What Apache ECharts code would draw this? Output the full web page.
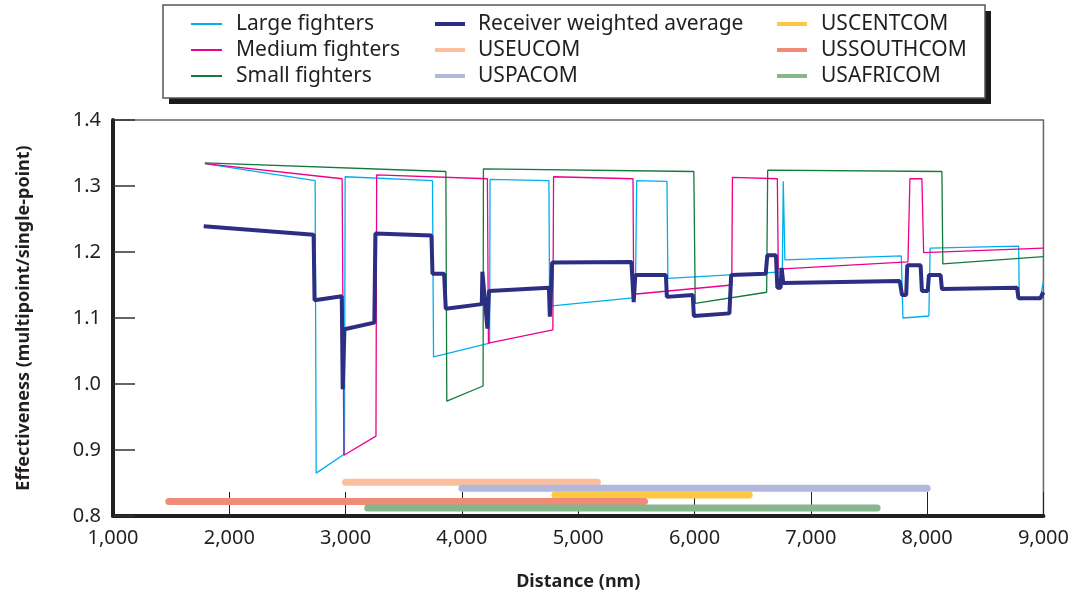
<!DOCTYPE html>
<html>
<head>
<meta charset="utf-8">
<script src="https://cdn.jsdelivr.net/npm/echarts@6/dist/echarts.min.js"></script>
<style>html,body{margin:0;padding:0;background:#fff}#c{width:1072px;height:596px}</style>
</head>
<body>
<div id="c"></div>
<script>
// ---- data ----
const xTicks = [1000, 2000, 3000, 4000, 5000, 6000, 7000, 8000, 9000];
const yTicks = [0.8, 0.9, 1.0, 1.1, 1.2, 1.3, 1.4];

const largeFighters = [
  [1790,1.334],[2738,1.308],[2747,0.865],[2990,0.894],[2996,1.314],[3747,1.308],
  [3756,1.041],[4238,1.062],[4242,1.310],[4748,1.308],[4754,1.118],[5491,1.131],
  [5503,1.308],[5763,1.307],[5771,1.160],[6755,1.170],[6763,1.307],[6777,1.188],
  [7778,1.194],[7792,1.100],[8015,1.103],[8026,1.206],[8787,1.209],[8792,1.128],
  [8973,1.130],[9000,1.156]
];
const mediumFighters = [
  [1790,1.334],[2970,1.311],[2985,0.892],[3261,0.921],[3267,1.317],[4219,1.311],
  [4228,1.062],[4782,1.082],[4788,1.314],[5471,1.311],[5477,1.136],[6320,1.150],
  [6326,1.313],[6712,1.311],[6720,1.174],[7835,1.185],[7852,1.311],[7955,1.311],
  [7970,1.199],[9000,1.206]
];
const smallFighters = [
  [1790,1.335],[3862,1.322],[3870,0.974],[4182,0.997],[4185,1.326],[5994,1.322],
  [6006,1.122],[6620,1.139],[6629,1.324],[8127,1.322],[8135,1.182],[9000,1.193]
];
const receiverAverage = [
  [1780,1.239],[2725,1.226],[2733,1.127],[2967,1.133],[2975,0.992],[2990,1.083],
  [3247,1.093],[3256,1.228],[3738,1.225],[3747,1.167],[3847,1.167],[3861,1.114],
  [4171,1.121],[4176,1.170],[4219,1.084],[4233,1.141],[4748,1.146],[4756,1.102],
  [4776,1.184],[5457,1.185],[5477,1.124],[5491,1.165],[5754,1.165],[5762,1.132],
  [5985,1.135],[5994,1.103],[6300,1.107],[6315,1.165],[6612,1.167],[6626,1.195],
  [6700,1.195],[6712,1.146],[6740,1.146],[6749,1.176],[6763,1.153],[7764,1.156],
  [7784,1.135],[7820,1.135],[7829,1.180],[7944,1.180],[7955,1.141],[8005,1.141],
  [8015,1.165],[8116,1.165],[8127,1.144],[8773,1.146],[8785,1.130],[8973,1.130],
  [9000,1.139]
];
const usEucom    = [[3000,0.851],[5165,0.851]];
const usPacom    = [[4000,0.842],[8000,0.842]];
const usCentcom  = [[4800,0.832],[6470,0.832]];
const usSouthcom = [[1480,0.822],[5570,0.822]];
const usAfricom  = [[3190,0.812],[7570,0.812]];

const FONT = '"Noto Sans", "DejaVu Sans", sans-serif';
const TXT = '#231f20';

function thin(name, data, color) {
  return { name, type:'line', data, color, symbol:'none', silent:true,
    lineStyle:{ color, width:1.3 }, z:2 };
}
function band(name, data, color) {
  return { name, type:'line', data, color, symbol:'none', silent:true,
    lineStyle:{ color, width:7, cap:'round' }, z:2 };
}

const legendText = { fontFamily:FONT, fontSize:21, color:TXT, lineHeight:22, padding:[0,0,0,9] };

const option = {
  animation:false,
  backgroundColor:'#fff',
  graphic:[
    { type:'rect', z:0, shape:{ x:169, y:11, width:822, height:93 },
      style:{ fill:'#1a1a1a' } },
    { type:'rect', z:1, shape:{ x:163, y:5, width:822, height:93 },
      style:{ fill:'#fff', stroke:'#555', lineWidth:1.5 } }
  ],
  legend:[
    { left:186, top:8, orient:'vertical', icon:'rect', itemWidth:31, itemHeight:2, itemGap:4,
      selectedMode:false, textStyle:legendText, z:10,
      data:['Large fighters','Medium fighters','Small fighters'] },
    { left:430, top:8, orient:'vertical', icon:'rect', itemWidth:30, itemHeight:4, itemGap:4,
      selectedMode:false, textStyle:Object.assign({}, legendText, {padding:[0,0,0,8]}), z:10,
      data:['Receiver weighted average','USEUCOM','USPACOM'] },
    { left:772, top:8, orient:'vertical', icon:'rect', itemWidth:30, itemHeight:4, itemGap:4,
      selectedMode:false, textStyle:Object.assign({}, legendText, {padding:[0,0,0,9]}), z:10,
      data:['USCENTCOM','USSOUTHCOM','USAFRICOM'] }
  ],
  grid:{ left:113, right:26, top:120, bottom:78, show:true, borderColor:'#666', borderWidth:1.5 },
  xAxis:{
    type:'value', min:xTicks[0], max:xTicks[xTicks.length-1], interval:1000,
    name:'Distance (nm)', nameLocation:'middle', nameGap:57,
    nameTextStyle:{ fontFamily:FONT, fontSize:18, fontWeight:'bold', color:TXT },
    axisLine:{ lineStyle:{ color:TXT, width:4 } },
    axisTick:{ inside:true, length:24, lineStyle:{ color:'#222', width:1 } },
    axisLabel:{ fontFamily:FONT, fontSize:20, color:TXT, margin:12,
      formatter:v => String(Math.round(v)).replace(/\B(?=(\d{3})+(?!\d))/g, ',') },
    splitLine:{ show:false }
  },
  yAxis:{
    type:'value', min:yTicks[0], max:yTicks[yTicks.length-1], interval:0.1,
    name:'Effectiveness (multipoint/single-point)', nameLocation:'middle', nameGap:80, nameRotate:90,
    nameTextStyle:{ fontFamily:FONT, fontSize:18, fontWeight:'bold', color:TXT },
    axisLine:{ lineStyle:{ color:TXT, width:4 } },
    axisTick:{ inside:true, length:22, lineStyle:{ color:'#333', width:1.5 } },
    axisLabel:{ fontFamily:FONT, fontSize:20, color:TXT, margin:12,
      formatter:v => v.toFixed(1) },
    splitLine:{ show:false }
  },
  series:[
    thin('Large fighters', largeFighters, '#00aeef'),
    thin('Medium fighters', mediumFighters, '#ec008c'),
    thin('Small fighters', smallFighters, '#137a3c'),
    { name:'Receiver weighted average', type:'line', data:receiverAverage, color:'#2b2e83',
      symbol:'none', silent:true, lineStyle:{ color:'#2b2e83', width:4 }, z:3 },
    band('USEUCOM', usEucom, '#fbbf9e'),
    band('USPACOM', usPacom, '#b1b8dc'),
    band('USCENTCOM', usCentcom, '#fdc643'),
    band('USSOUTHCOM', usSouthcom, '#f08b77'),
    band('USAFRICOM', usAfricom, '#86b68c')
  ]
};
const chart = echarts.init(document.getElementById('c'), null, { renderer:'canvas' });
chart.setOption(option);
</script>
</body>
</html>
